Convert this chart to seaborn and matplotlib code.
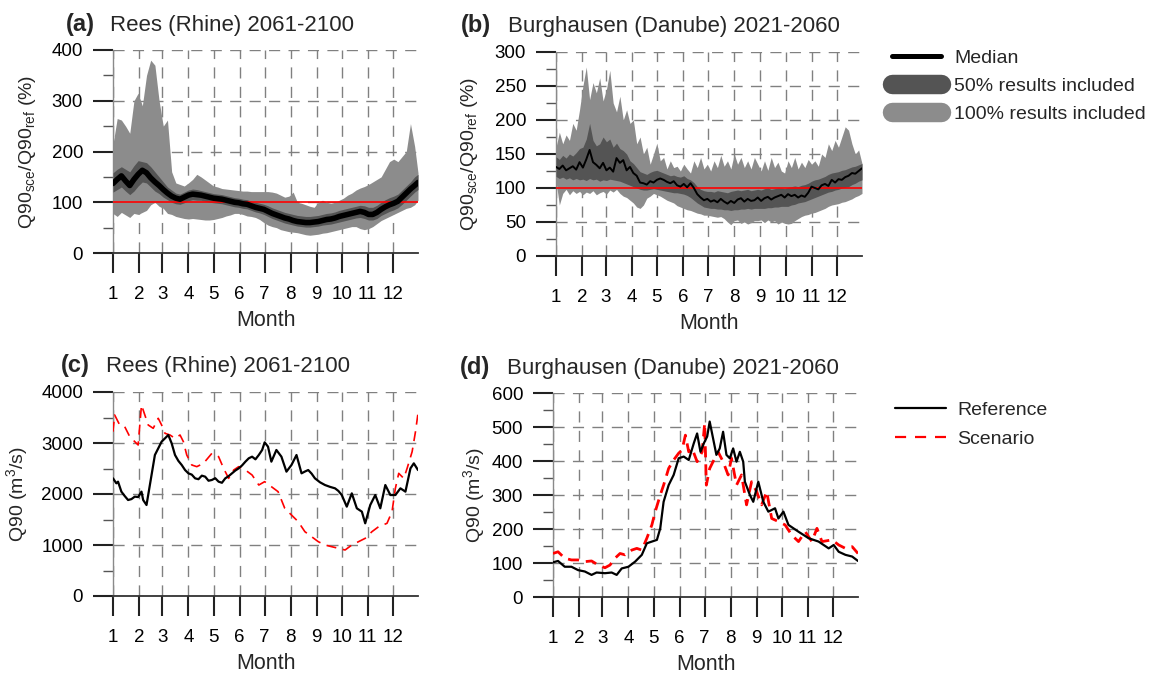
import numpy as np
import pandas as pd
import matplotlib
matplotlib.use("Agg")
import matplotlib.pyplot as plt
from matplotlib.lines import Line2D
from matplotlib.ticker import MultipleLocator
import seaborn as sns

# ---- data ----
MONTH_START = [1, 32, 60, 91, 121, 152, 182, 213, 244, 274, 305, 335]
MONTH_LABELS = ["1", "2", "3", "4", "5", "6", "7", "8", "9", "10", "11", "12"]

# (a) Rees, ratio scenario / reference in %, every 5 days
DAYS_A = list(range(1, 362, 5)) + [365]
MED_A = [137, 145, 152, 142, 133, 145, 155, 163, 158, 148,
         140, 133, 125, 118, 112, 108, 106, 110, 114, 116,
         115, 114, 112, 110, 108, 107, 106, 104, 102, 100,
         99, 97, 96, 93, 90, 88, 86, 82, 78, 75,
         72, 69, 67, 64, 62, 61, 60, 60, 61, 62,
         64, 66, 67, 69, 72, 74, 76, 78, 80, 82,
         80, 76, 76, 80, 86, 91, 95, 98, 102, 110,
         118, 126, 133, 139]
UP50_A = [158, 165, 170, 165, 160, 172, 182, 180, 178, 170,
          160, 150, 140, 130, 124, 118, 116, 120, 124, 126,
          125, 123, 121, 119, 117, 116, 115, 113, 111, 109,
          108, 106, 105, 102, 100, 98, 96, 93, 89, 86,
          83, 80, 78, 76, 74, 73, 72, 72, 73, 74,
          76, 78, 79, 81, 84, 86, 88, 90, 92, 94,
          93, 90, 90, 94, 100, 105, 109, 112, 116, 124,
          132, 140, 150, 155]
LO50_A = [120, 125, 130, 122, 115, 122, 132, 140, 138, 130,
          122, 117, 110, 105, 100, 97, 96, 99, 103, 105,
          104, 104, 102, 100, 99, 98, 97, 95, 93, 91,
          90, 88, 87, 84, 81, 79, 76, 72, 68, 65,
          62, 59, 57, 55, 53, 52, 51, 51, 52, 53,
          55, 56, 57, 59, 61, 63, 65, 67, 69, 70,
          68, 65, 65, 68, 74, 78, 82, 85, 89, 96,
          104, 112, 120, 125]
UP100_A = [215, 265, 262, 250, 236, 300, 315, 290, 350, 380,
           370, 300, 250, 262, 160, 138, 135, 132, 138, 145,
           155, 150, 144, 138, 132, 130, 127, 126, 125, 124,
           123, 122, 122, 121, 121, 121, 121, 121, 120, 118,
           114, 110, 112, 120, 100, 98, 95, 92, 90, 100,
           104, 100, 98, 100, 104, 108, 114, 118, 124, 128,
           131, 135, 140, 145, 150, 165, 180, 185, 180, 190,
           200, 255, 210, 158]
LO100_A = [78, 72, 80, 75, 70, 78, 76, 80, 84, 95,
           100, 92, 88, 78, 76, 72, 70, 68, 67, 68,
           67, 66, 65, 65, 66, 68, 70, 73, 75, 78,
           78, 76, 73, 72, 70, 66, 60, 55, 52, 50,
           46, 44, 42, 41, 40, 38, 36, 35, 36, 37,
           39, 40, 42, 44, 46, 48, 50, 52, 52, 48,
           46, 48, 52, 58, 64, 68, 72, 76, 80, 84,
           88, 90, 95, 104]

# (b) Burghausen, ratio in %, every 4 days
DAYS_B = list(range(1, 366, 4))
MED_B = [131, 128, 133, 126, 129, 132, 127, 138, 130, 142,
         156, 138, 134, 129, 137, 126, 130, 124, 144, 137,
         141, 126, 131, 122, 118, 108, 107, 105, 110, 108,
         112, 114, 112, 109, 107, 110, 104, 102, 106, 101,
         107, 100, 91, 86, 82, 84, 80, 82, 79, 84,
         80, 77, 81, 78, 83, 85, 80, 84, 81, 82,
         86, 81, 85, 87, 83, 86, 88, 90, 86, 91,
         88, 90, 86, 89, 87, 93, 102, 100, 98, 104,
         106, 103, 112, 108, 113, 112, 116, 118, 122, 121,
         125, 129]
UP50_B = [146, 142, 148, 144, 150, 147, 152, 158, 160, 172,
          195, 170, 162, 165, 175, 168, 172, 160, 166, 158,
          155, 150, 140, 136, 130, 124, 122, 120, 123, 125,
          126, 124, 122, 120, 118, 119, 117, 116, 118, 114,
          112, 108, 102, 98, 96, 95, 95, 94, 96, 95,
          94, 93, 95, 96, 97, 96, 97, 98, 96, 97,
          98, 97, 99, 100, 98, 99, 100, 100, 99, 101,
          102, 103, 102, 104, 105, 107, 110, 112, 113, 115,
          117, 120, 122, 123, 124, 126, 127, 129, 131, 132,
          134, 136]
LO50_B = [117, 114, 116, 113, 115, 112, 114, 112, 113, 111,
          114, 112, 113, 110, 112, 111, 113, 112, 111, 110,
          108, 106, 104, 102, 100, 98, 97, 97, 98, 99,
          98, 97, 96, 95, 94, 93, 93, 92, 91, 89,
          86, 82, 78, 75, 72, 71, 70, 70, 69, 69,
          68, 68, 67, 68, 68, 69, 69, 70, 69, 70,
          70, 70, 70, 71, 71, 72, 72, 73, 73, 73,
          75, 76, 78, 79, 80, 82, 84, 86, 88, 90,
          92, 94, 95, 97, 98, 100, 101, 102, 105, 107,
          110, 112]
UP100_B = [160, 182, 165, 178, 170, 195, 185, 215, 250, 278,
           230, 255, 240, 262, 228, 245, 273, 225, 212, 235,
           200, 215, 195, 200, 165, 175, 150, 160, 135, 150,
           166, 140, 145, 128, 140, 130, 132, 125, 135, 128,
           122, 140, 130, 145, 128, 135, 125, 140, 130, 148,
           132, 140, 128, 150, 135, 145, 130, 140, 128, 145,
           135, 125, 140, 126, 145, 130, 138, 125, 122, 140,
           130, 145, 128, 138, 130, 142, 135, 140, 132, 150,
           145, 165, 155, 170, 160, 175, 190, 185, 165, 150,
           156, 136]
LO100_B = [110, 75, 92, 98, 90, 96, 92, 95, 90, 94,
           92, 96, 90, 93, 95, 91, 97, 94, 98, 92,
           88, 86, 82, 78, 72, 70, 75, 85, 88, 92,
           90, 88, 85, 82, 80, 78, 74, 72, 70, 68,
           67, 65, 63, 62, 60, 60, 59, 58, 57, 58,
           55, 50, 46, 52, 53, 48, 50, 47, 49, 52,
           52, 53, 49, 53, 50, 52, 47, 50, 48, 47,
           48, 52, 55, 58, 60, 61, 63, 64, 66, 68,
           70, 73, 75, 76, 77, 79, 80, 82, 84, 87,
           89, 92]

# (c) Rees, Q90 in m3/s
REF_C_DAY = [1, 5, 7, 11, 15, 19, 23, 27, 31, 35, 37, 41, 45, 51, 55, 59, 63, 67, 71, 75,
             79, 83, 87, 91, 95, 99, 103, 107, 111, 115, 119, 123, 127, 131, 135, 139, 143, 147, 151, 155,
             159, 163, 167, 171, 175, 179, 182, 186, 190, 196, 202, 208, 214, 220, 226, 230, 234, 238, 242, 248,
             254, 260, 266, 270, 274, 280, 286, 292, 298, 302, 308, 314, 320, 326, 332, 338, 344, 350, 356, 360,
             365]
REF_C = [2307, 2209, 2242, 2046, 1960, 1882, 1900, 1948, 1940, 2046, 1882, 1784, 2176, 2765, 2895, 3026, 3091, 3157, 2994, 2765,
         2650, 2569, 2470, 2405, 2380, 2307, 2290, 2360, 2340, 2260, 2275, 2310, 2242, 2220, 2307, 2350, 2405, 2460, 2503, 2560,
         2634, 2700, 2732, 2680, 2765, 2863, 3013, 2928, 2634, 2863, 2732, 2438, 2569, 2765, 2405, 2440, 2470, 2400, 2307, 2230,
         2176, 2140, 2111, 2060, 1980, 1752, 2013, 1719, 1654, 1425, 1784, 1980, 1719, 2176, 1980, 1980, 2111, 2046, 2503, 2601,
         2470]
SCN_C_DAY = [1, 3, 9, 15, 21, 27, 31, 35, 39, 43, 49, 55, 59, 63, 69, 75, 81, 85, 89, 95,
             101, 109, 119, 127, 133, 139, 145, 151, 159, 167, 175, 182, 190, 198, 206, 214, 222, 230, 238, 246,
             254, 262, 270, 278, 286, 294, 302, 310, 318, 328, 334, 338, 342, 348, 352, 358, 362, 365]
SCN_C = [3222, 3549, 3353, 3320, 3124, 3026, 2961, 3745, 3549, 3353, 3288, 3484, 3353, 3190, 3157, 3091, 3157, 3026, 2765, 2569,
         2536, 2601, 2797, 2732, 2503, 2307, 2470, 2536, 2470, 2372, 2176, 2242, 2144, 2046, 1719, 1588, 1458, 1261, 1163, 1065,
         1000, 967, 935, 902, 1000, 1065, 1131, 1261, 1359, 1425, 1654, 2111, 2405, 2307, 2503, 2830, 3222, 3582]

# (d) Burghausen, Q90 in m3/s
REF_D_DAY = [1, 7, 15, 23, 31, 39, 47, 53, 63, 71, 77, 83, 91, 99, 107, 113, 119, 125, 129, 133,
             139, 145, 151, 157, 163, 169, 173, 177, 181, 185, 188, 192, 196, 200, 204, 208, 212, 216, 220, 224,
             228, 230, 236, 240, 246, 252, 258, 266, 270, 276, 282, 294, 306, 318, 330, 336, 342, 350, 358, 365]
REF_D = [102, 106, 89, 89, 79, 75, 65, 72, 70, 72, 65, 84, 89, 104, 124, 158, 163, 168, 202, 280,
         329, 359, 408, 413, 403, 452, 481, 427, 452, 472, 516, 467, 418, 437, 486, 418, 408, 437, 398, 427,
         398, 339, 300, 280, 339, 280, 251, 261, 231, 251, 212, 192, 173, 163, 143, 153, 133, 124, 119, 106]
SCN_D_DAY = [1, 7, 15, 23, 31, 39, 47, 55, 63, 69, 75, 81, 87, 95, 101, 107, 113, 119, 123, 129,
             133, 139, 145, 151, 155, 159, 163, 167, 173, 179, 182, 184, 188, 192, 198, 204, 210, 214, 220, 226,
             232, 238, 244, 250, 256, 262, 270, 278, 286, 294, 302, 310, 316, 322, 334, 342, 350, 358, 365]
SCN_D = [128, 133, 114, 109, 109, 104, 106, 94, 86, 94, 114, 128, 124, 138, 143, 138, 173, 212, 251, 300,
         329, 378, 403, 423, 432, 476, 427, 437, 398, 427, 511, 329, 378, 398, 427, 398, 359, 408, 329, 359,
         271, 339, 310, 271, 310, 231, 222, 212, 182, 163, 192, 163, 202, 163, 168, 153, 143, 148, 128]

# ---- style ----
sns.set_theme(style="white")
plt.rcParams['font.family'] = ['Liberation Sans', 'DejaVu Sans']
plt.rcParams['mathtext.default'] = 'regular'
# ticks on, long and outward (seaborn "white" switches them off)
plt.rcParams.update({
    "xtick.bottom": True, "ytick.left": True,
    "xtick.major.bottom": True, "ytick.major.left": True,
    "xtick.direction": "out", "ytick.direction": "out",
    "xtick.major.size": 14.5, "ytick.major.size": 14.5,
    "xtick.major.width": 1.5, "ytick.major.width": 1.5,
    "ytick.minor.size": 7, "ytick.minor.width": 1.0,
    "xtick.color": "#222222", "ytick.color": "#222222",
    "xtick.labelcolor": "black", "ytick.labelcolor": "black",
})

W, H = 1150, 676
C_DARK = "#545454"
C_LIGHT = "#8c8c8c"
GRID_KW = dict(color="#808080", linewidth=1.0, linestyle=(0, (8, 6)))


def add_ax(fig, left, top, right, bottom):
    return fig.add_axes([left / W, 1 - bottom / H, (right - left) / W, (bottom - top) / H])


def style_axis(ax, ymax, major, minor, ylabel, label_x):
    ax.set_xlim(1, 365)
    ax.set_ylim(0, ymax)
    ax.set_xticks(MONTH_START)
    ax.set_xticklabels(MONTH_LABELS)
    ax.yaxis.set_major_locator(MultipleLocator(major))
    ax.yaxis.set_minor_locator(MultipleLocator(minor))
    ax.tick_params(axis="x", which="major", pad=9, labelsize=13.5)
    ax.tick_params(axis="y", which="major", pad=7, labelsize=13.5)
    ax.tick_params(axis="y", which="minor", color="#555555")
    for side in ["top", "right"]:
        ax.spines[side].set_visible(False)
    ax.spines["left"].set_color("#8a8a8a")
    ax.spines["left"].set_linewidth(1.0)
    ax.spines["bottom"].set_color("#333333")
    ax.spines["bottom"].set_linewidth(1.3)
    ax.grid(True, which="major", **GRID_KW)
    ax.set_axisbelow(True)
    ax.set_xlabel("Month", fontsize=15.5, labelpad=5)
    ax.set_ylabel(ylabel, fontsize=14)
    ax.yaxis.set_label_coords(label_x, 0.5)
    # make sure the long outward ticks are drawn
    ax.xaxis.set_tick_params(which="major", bottom=True, length=14.5, width=1.5)
    ax.yaxis.set_tick_params(which="major", left=True, length=14.5, width=1.5)


def panel_title(fig, x_tag, x_txt, y, tag, txt):
    fig.text(x_tag / W, 1 - y / H, tag, fontsize=17, fontweight="bold", va="baseline")
    fig.text(x_txt / W, 1 - y / H, txt, fontsize=16, va="baseline")


def draw_ratio(ax, days, lo100, up100, lo50, up50, med, med_lw):
    ax.fill_between(days, lo100, up100, color=C_LIGHT, linewidth=0, zorder=2)
    ax.fill_between(days, lo50, up50, color=C_DARK, linewidth=0, zorder=3)
    ax.axhline(100, color="red", linewidth=1.2, zorder=5)
    sns.lineplot(x=days, y=med, ax=ax, color="black", linewidth=med_lw,
                 solid_capstyle="round", zorder=6)


def draw_q90(ax, ref_day, ref, scn_day, scn, ref_lw, scn_lw, dash):
    sns.lineplot(x=scn_day, y=scn, ax=ax, color="red", linewidth=scn_lw,
                 linestyle=(0, dash), zorder=4)
    sns.lineplot(x=ref_day, y=ref, ax=ax, color="black", linewidth=ref_lw, zorder=5)


fig = plt.figure(figsize=(W / 100, H / 100), dpi=100)

ax_a = add_ax(fig, 113, 50, 418, 253)
ax_b = add_ax(fig, 556, 52, 862, 256)
ax_c = add_ax(fig, 113, 392, 418, 596)
ax_d = add_ax(fig, 553, 393, 858, 597)

ratio_label = r"Q90$_{sce}$/Q90$_{ref}$ (%)"
q_label = r"Q90 (m$^3$/s)"

draw_ratio(ax_a, DAYS_A, LO100_A, UP100_A, LO50_A, UP50_A, MED_A, 4.0)
style_axis(ax_a, 400, 100, 50, ratio_label, -0.245)

draw_ratio(ax_b, DAYS_B, LO100_B, UP100_B, LO50_B, UP50_B, MED_B, 1.4)
style_axis(ax_b, 300, 50, 25, ratio_label, -0.248)

draw_q90(ax_c, REF_C_DAY, REF_C, SCN_C_DAY, SCN_C, 1.6, 1.2, (6, 4))
style_axis(ax_c, 4000, 1000, 500, q_label, -0.272)

draw_q90(ax_d, REF_D_DAY, REF_D, SCN_D_DAY, SCN_D, 1.6, 2.0, (4, 2.5))
style_axis(ax_d, 600, 100, 50, q_label, -0.218)

panel_title(fig, 66, 110, 31, "(a)", "Rees (Rhine) 2061-2100")
panel_title(fig, 461, 508, 32, "(b)", "Burghausen (Danube) 2021-2060")
panel_title(fig, 61, 106, 372, "(c)", "Rees (Rhine) 2061-2100")
panel_title(fig, 460, 507, 374, "(d)", "Burghausen (Danube) 2021-2060")

# legends
band_handles = [
    Line2D([], [], color="black", linewidth=3.6, solid_capstyle="round"),
    Line2D([], [], color=C_DARK, linewidth=14, solid_capstyle="round"),
    Line2D([], [], color=C_LIGHT, linewidth=14, solid_capstyle="round"),
]
fig.legend(band_handles, ["Median", "50% results included", "100% results included"],
           loc="upper left", bbox_to_anchor=(892 / W, 1 - 49 / H), frameon=False,
           fontsize=14, handlelength=2.5, handletextpad=0.7, labelspacing=0.55,
           borderpad=0, borderaxespad=0)

line_handles = [
    Line2D([], [], color="black", linewidth=1.6),
    Line2D([], [], color="red", linewidth=1.6, linestyle=(0, (5, 4))),
]
fig.legend(line_handles, ["Reference", "Scenario"],
           loc="upper left", bbox_to_anchor=(895 / W, 1 - 401 / H), frameon=False,
           fontsize=14, handlelength=2.6, handletextpad=0.62, labelspacing=0.62,
           borderpad=0, borderaxespad=0)

fig.savefig("out.png", dpi=100)
